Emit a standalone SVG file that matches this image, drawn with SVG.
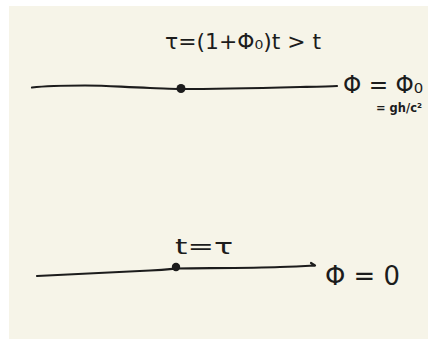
<svg xmlns="http://www.w3.org/2000/svg" width="428" height="339" viewBox="0 0 428 339">
  <style>
    .ink { fill: none; stroke: #1c1c1c; stroke-width: 2.2; stroke-linecap: round; stroke-linejoin: round; }
    .dot { fill: #1c1c1c; }
    .hand { font-family: "DejaVu Sans", "Liberation Sans", sans-serif; fill: #1c1c1c; }
  </style>
  <rect x="0" y="0" width="428" height="339" fill="#ffffff"/>
  <rect x="9" y="6" width="419" height="333" fill="#f6f4e8"/>
  <g id="connectors">
    <path class="ink" d="M32,87.5 C45,86 60,85.5 85,85.5 C110,85.5 120,87 150,88 C165,88.5 172,89 181,89 C220,89 260,88 300,87 C315,86.7 328,86.5 337,86"/>
    <path class="ink" d="M37,276 C70,274.5 110,272.5 150,270.5 C165,269.5 170,269 176,268.5 C220,268 255,268 280,267 C295,266.5 305,266 315,265.5 M311,263 L315,265.5"/>
  </g>
  <g id="top-event">
    <circle class="dot" cx="181" cy="88.5" r="4.5"/>
    <text class="hand" x="165" y="49" font-size="22" textLength="156" lengthAdjust="spacingAndGlyphs">τ=(1+Φ₀)t &gt; t</text>
  </g>
  <g id="top-potential">
    <text class="hand" x="343" y="93" font-size="24" textLength="80" lengthAdjust="spacingAndGlyphs">Φ = Φ₀</text>
    <text class="hand" x="376" y="112" font-size="13" font-weight="bold" textLength="46" lengthAdjust="spacingAndGlyphs">= gh/c²</text>
  </g>
  <g id="bottom-event">
    <circle class="dot" cx="176" cy="267" r="4.2"/>
    <text class="hand" x="175" y="254" font-size="21" textLength="58" lengthAdjust="spacingAndGlyphs">t=τ</text>
  </g>
  <g id="bottom-potential">
    <text class="hand" x="325" y="285" font-size="27" textLength="75" lengthAdjust="spacingAndGlyphs">Φ = 0</text>
  </g>
</svg>
